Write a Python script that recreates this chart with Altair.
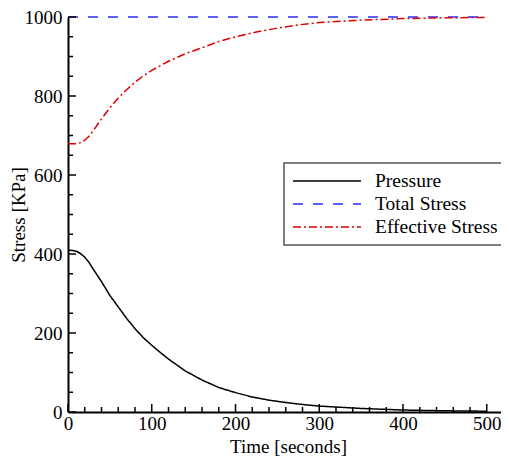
import altair as alt
import pandas as pd

# ---- data ----
series_names = ["Pressure", "Total Stress", "Effective Stress"]
series_colors = ["#000000", "#2b2bff", "#dd0000"]

pressure_t = [0, 5, 10, 15, 20, 25, 30, 40, 50, 60, 70, 80, 90, 100, 110, 120,
              140, 160, 180, 200, 220, 240, 260, 280, 300, 350, 400, 450, 500]
pressure_v = [410, 409, 407, 401, 392, 379, 362, 330, 295, 266, 237, 211, 188, 169, 151, 134,
              104, 81, 62, 49, 38, 30, 24, 19, 15, 9, 5, 3, 2]

total_t = [0, 500]
total_v = [1000, 1000]

effective_t = [0, 5, 10, 15, 20, 25, 30, 40, 50, 60, 70, 80, 90, 100, 120, 140, 160,
               180, 200, 225, 250, 275, 300, 350, 400, 450, 500]
effective_v = [679, 679, 679, 682, 688, 698, 712, 742, 770, 795, 816, 835, 851, 865, 888, 907, 922,
               938, 950, 962, 972, 980, 986, 992, 996, 998, 999]

x_major = [0, 100, 200, 300, 400, 500]
x_minor = [20, 40, 60, 80, 120, 140, 160, 180, 220, 240, 260, 280,
           320, 340, 360, 380, 420, 440, 460, 480]
y_major = [0, 200, 400, 600, 800, 1000]
y_minor = [50, 100, 150, 250, 300, 350, 450, 500, 550, 650, 700, 750, 850, 900, 950]

rows = []
for t, v in zip(pressure_t, pressure_v):
    rows.append({"t": t, "v": v, "series": "Pressure"})
for t, v in zip(total_t, total_v):
    rows.append({"t": t, "v": v, "series": "Total Stress"})
for t, v in zip(effective_t, effective_v):
    rows.append({"t": t, "v": v, "series": "Effective Stress"})
df = pd.DataFrame(rows)

W, H = 433, 395
FONT = "Liberation Serif, Times New Roman, serif"

xscale = alt.Scale(domain=[0, 517], nice=False, zero=False)
yscale = alt.Scale(domain=[0, 1000], nice=False)

lines = alt.Chart(df).mark_line(strokeWidth=1.5).encode(
    x=alt.X("t:Q", scale=xscale,
            axis=alt.Axis(title="Time [seconds]", values=x_major, ticks=False, format="d",
                          labelPadding=2, titleX=220, titleY=25, titleBaseline="top",
                          domainWidth=2, domainColor="black", grid=False, labelFlush=False)),
    y=alt.Y("v:Q", scale=yscale,
            axis=alt.Axis(title="Stress [KPa]", values=y_major, ticks=False, format="d",
                          labelPadding=6, titleX=-40, titleY=H / 2, titleAngle=270,
                          titleBaseline="bottom", titleAlign="center",
                          domainWidth=2, domainColor="black", grid=False, labelFlush=False)),
    color=alt.Color("series:N", scale=alt.Scale(domain=series_names, range=series_colors),
                    sort=series_names,
                    legend=alt.Legend(title=None, orient="none", legendX=216, legendY=146,
                                      symbolType="stroke", symbolSize=4624, symbolStrokeWidth=1.5,
                                      labelFont=FONT, labelFontSize=19.5, labelOffset=13,
                                      rowPadding=3, padding=8, strokeColor="#555555",
                                      fillColor="white", clipHeight=20, labelColor="black")),
    strokeDash=alt.StrokeDash("series:N",
                              scale=alt.Scale(domain=series_names,
                                              range=[[1, 0], [10, 10], [8, 3, 2, 3]]),
                              sort=series_names, legend=None),
    detail="series:N",
)

xmaj = alt.Chart(pd.DataFrame({"v": x_major})).mark_rule(color="black", strokeWidth=1.5).encode(
    x=alt.X("v:Q", scale=xscale), y=alt.value(H), y2=alt.value(H - 8))
xmin = alt.Chart(pd.DataFrame({"v": x_minor})).mark_rule(color="black", strokeWidth=1.5).encode(
    x=alt.X("v:Q", scale=xscale), y=alt.value(H), y2=alt.value(H - 5))
ymaj = alt.Chart(pd.DataFrame({"v": y_major})).mark_rule(color="black", strokeWidth=1.5).encode(
    y=alt.Y("v:Q", scale=yscale), x=alt.value(0), x2=alt.value(8))
ymin = alt.Chart(pd.DataFrame({"v": y_minor})).mark_rule(color="black", strokeWidth=1.5).encode(
    y=alt.Y("v:Q", scale=yscale), x=alt.value(0), x2=alt.value(5))

chart = alt.layer(lines, xmaj, xmin, ymaj, ymin).properties(
    width=W, height=H,
    autosize=alt.AutoSizeParams(type="none"),
    padding={"left": 60, "top": 9, "right": 0, "bottom": 47},
).configure_view(stroke=None).configure_axis(
    labelFont=FONT, labelFontSize=19, labelColor="black",
    titleFont=FONT, titleFontSize=19, titleFontWeight="normal", titleColor="black",
).configure_legend(strokeWidth=1.5)

chart.save("out.html", embed_options={"renderer": "svg", "actions": False})
